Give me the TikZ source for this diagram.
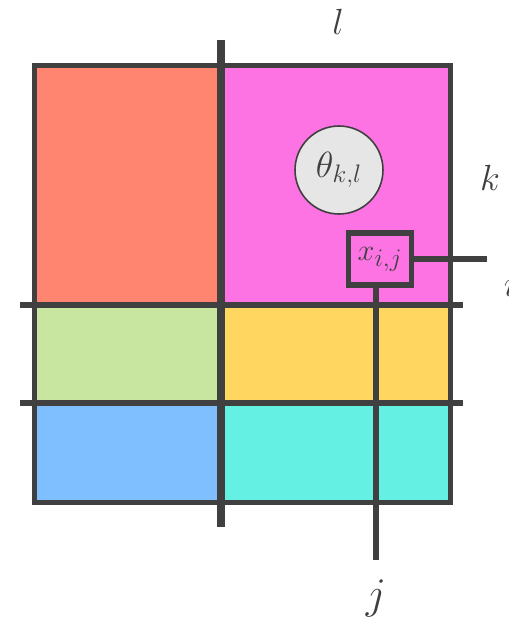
\documentclass[tikz,border=0pt]{standalone}
\usetikzlibrary{positioning}
\usepackage{amsmath}
\usepackage{xcolor}
\definecolor{lgrid}{HTML}{404040}
\definecolor{cred}{HTML}{FF8570}
\definecolor{cmag}{HTML}{FD73E3}
\definecolor{cgreen}{HTML}{C8E6A0}
\definecolor{cyell}{HTML}{FFD760}
\definecolor{cblue}{HTML}{7FBFFF}
\definecolor{ccyan}{HTML}{64F0E2}
\definecolor{lgray}{HTML}{E6E6E6}

\begin{document}
\begin{tikzpicture}[
      x=0.02cm, y=-0.02cm,
      every node/.style={font=\fontsize{21}{24}\selectfont, text=lgrid},
      gline/.style={draw=lgrid, line width=3pt},
      thetanode/.style={circle, draw=lgrid, line width=0.9pt, fill=lgray,
                  minimum size=1.76cm, inner sep=0pt},
      xbox/.style={draw=lgrid, line width=3.4pt, fill=cmag,
                  minimum width=1.26cm, minimum height=1.04cm, inner sep=0pt},
    ]
    \useasboundingbox (0,0) rectangle (508,623);

    % coloured blocks
    \fill[cred]   (32,63)   rectangle (221,305);
    \fill[cmag]   (221,63)  rectangle (453,305);
    \fill[cgreen] (32,305)  rectangle (221,403);
    \fill[cyell]  (221,305) rectangle (453,403);
    \fill[cblue]  (32,403)  rectangle (221,505);
    \fill[ccyan]  (221,403) rectangle (453,505);

    % grid lines
    \draw[gline] (34.5,65.5) rectangle (450.5,502.5);
    \draw[gline] (20,305) -- (463,305);
    \draw[gline] (20,403) -- (463,403);
    \draw[draw=lgrid, line width=5pt] (221,40) -- (221,527);

    \node[thetanode] (theta) at (339,170) {$\theta_{k,l}$};
    \node[xbox, font=\fontsize{19}{22}\selectfont] (xij) at (380,259) {$x_{i,j}$};

    \coordinate (iend) at (487,259);
    \coordinate (jend) at (376,560);
    \draw[gline] (xij.east) -- (iend);
    \draw[gline] (xij.south -| jend) -- (jend);

    \node (lab-l) at (338,22)  {$l$};
    \node (lab-k) at (490,178) {$k$};
    \node (lab-i) at (510,285) {$i$};
    \node[font=\fontsize{27}{32}\selectfont] (lab-j) at (376,598) {$j$};
  \end{tikzpicture}
\end{document}
